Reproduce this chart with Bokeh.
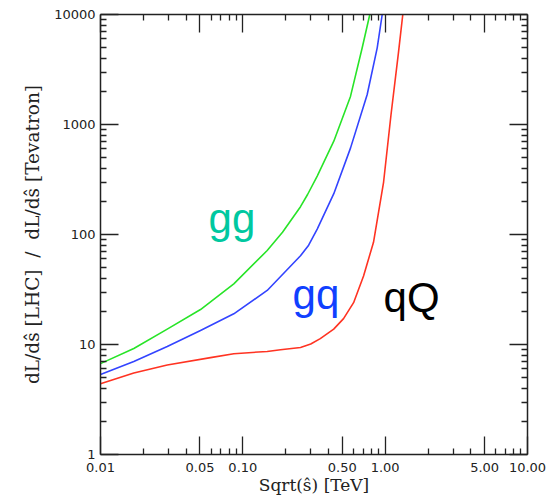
from bokeh.plotting import figure
from bokeh.models import LogAxis, FixedTicker
from bokeh.embed import file_html
from bokeh.resources import INLINE
from bokeh.core.properties import value

# ---- data ----
gg_x = [0.01, 0.01714, 0.02944, 0.05043, 0.0864, 0.1483, 0.19, 0.2542, 0.285, 0.3331, 0.4356, 0.5706, 0.6898, 0.7799]
gg_y = [6.7, 9.2, 13.8, 20.8, 35.6, 71.5, 105, 179, 231, 340, 705, 1800, 4980, 10000]

gq_x = [0.01, 0.01714, 0.02944, 0.05043, 0.0864, 0.1483, 0.2542, 0.29, 0.3331, 0.4356, 0.5706, 0.7478, 0.8792, 0.9532]
gq_y = [5.34, 7.0, 9.6, 13.4, 19.0, 31.0, 64.0, 80.0, 112, 235, 610, 1874, 4980, 10000]

qQ_x = [0.01, 0.01714, 0.02944, 0.0593, 0.0864, 0.1483, 0.184, 0.2542, 0.30, 0.35, 0.435, 0.51, 0.60, 0.705, 0.828, 0.975, 1.10, 1.24, 1.33]
qQ_y = [4.39, 5.5, 6.5, 7.6, 8.25, 8.65, 8.95, 9.4, 10.1, 11.3, 13.8, 17.2, 24.0, 42.0, 85.0, 300, 1240, 4500, 10000]

labels = ["gg", "gq", "qQ"]
label_x = [0.0574, 0.2234, 0.975]
label_y = [140, 28.5, 26.8]

x_major = [0.01, 0.05, 0.1, 0.5, 1, 5, 10]
x_major_labels = ["0.01", "0.05", "0.10", "0.50", "1.00", "5.00", "10.00"]
x_minor = [0.02, 0.03, 0.04, 0.06, 0.07, 0.08, 0.09,
           0.2, 0.3, 0.4, 0.6, 0.7, 0.8, 0.9,
           2, 3, 4, 6, 7, 8, 9]
y_major = [1, 10, 100, 1000, 10000]
y_major_labels = ["1", "10", "100", "1000", "10000"]
y_minor = [m * d for d in [1, 10, 100, 1000] for m in range(2, 10)]

# ---- figure ----
p = figure(width=548, height=504, x_axis_type="log", y_axis_type="log",
           x_range=(0.01, 10), y_range=(1, 10000),
           output_backend="svg", toolbar_location=None,
           min_border_left=100, min_border_right=21,
           min_border_top=14, min_border_bottom=50,
           background_fill_color="white", border_fill_color="white")
p.grid.visible = False
p.outline_line_color = None

xt = FixedTicker(ticks=x_major, minor_ticks=x_minor)
yt = FixedTicker(ticks=y_major, minor_ticks=y_minor)

axis_color = "#222222"

def style(ax, ticker, labels_map, show_labels):
    ax.ticker = ticker
    ax.axis_line_color = axis_color
    ax.axis_line_width = 1.5
    ax.major_tick_line_color = axis_color
    ax.minor_tick_line_color = axis_color
    ax.major_tick_line_width = 1.3
    ax.minor_tick_line_width = 1.3
    ax.major_tick_in = 18
    ax.major_tick_out = 0
    ax.minor_tick_in = 6
    ax.minor_tick_out = 0
    ax.major_label_overrides = labels_map
    ax.major_label_text_font = "DejaVu Sans"
    ax.major_label_text_font_size = "13px" if show_labels else "0px"
    ax.major_label_text_color = "#222222"
    if not show_labels:
        ax.major_label_text_alpha = 0
        ax.major_label_standoff = 0

xmap = {v: s for v, s in zip(x_major, x_major_labels)}
ymap = {v: s for v, s in zip(y_major, y_major_labels)}

style(p.xaxis[0], xt, xmap, True)
style(p.yaxis[0], yt, ymap, True)
p.xaxis[0].major_label_standoff = 8
p.yaxis[0].major_label_standoff = 5

p.xaxis[0].axis_label = "Sqrt(ŝ) [TeV]"
p.yaxis[0].axis_label = "dL/dŝ [LHC] \u00a0/\u00a0 dL/dŝ [Tevatron]"
for ax in (p.xaxis[0], p.yaxis[0]):
    ax.axis_label_text_font = "DejaVu Serif"
    ax.axis_label_text_font_style = "normal"
    ax.axis_label_text_color = "#222222"
p.xaxis[0].axis_label_text_font_size = "17px"
p.yaxis[0].axis_label_text_font_size = "18.5px"
p.xaxis[0].axis_label_standoff = 0
p.yaxis[0].axis_label_standoff = 8

top = LogAxis()
right = LogAxis()
style(top, xt, xmap, False)
style(right, yt, ymap, False)
p.add_layout(top, "above")
p.add_layout(right, "right")

# ---- curves ----
p.line(gg_x, gg_y, line_color="#28e428", line_width=1.6, line_join="round")
p.line(gq_x, gq_y, line_color="#3344ff", line_width=1.6, line_join="round")
p.line(qQ_x, qQ_y, line_color="#ff3322", line_width=1.6, line_join="round")

p.text(x=label_x, y=label_y, text=labels,
       text_color=["#00c8a0", "#1040ff", "#000000"],
       text_font=value("Liberation Sans"), text_font_size="42px",
       text_align="left", text_baseline="alphabetic")

open("out.html", "w").write(file_html(p, INLINE))
